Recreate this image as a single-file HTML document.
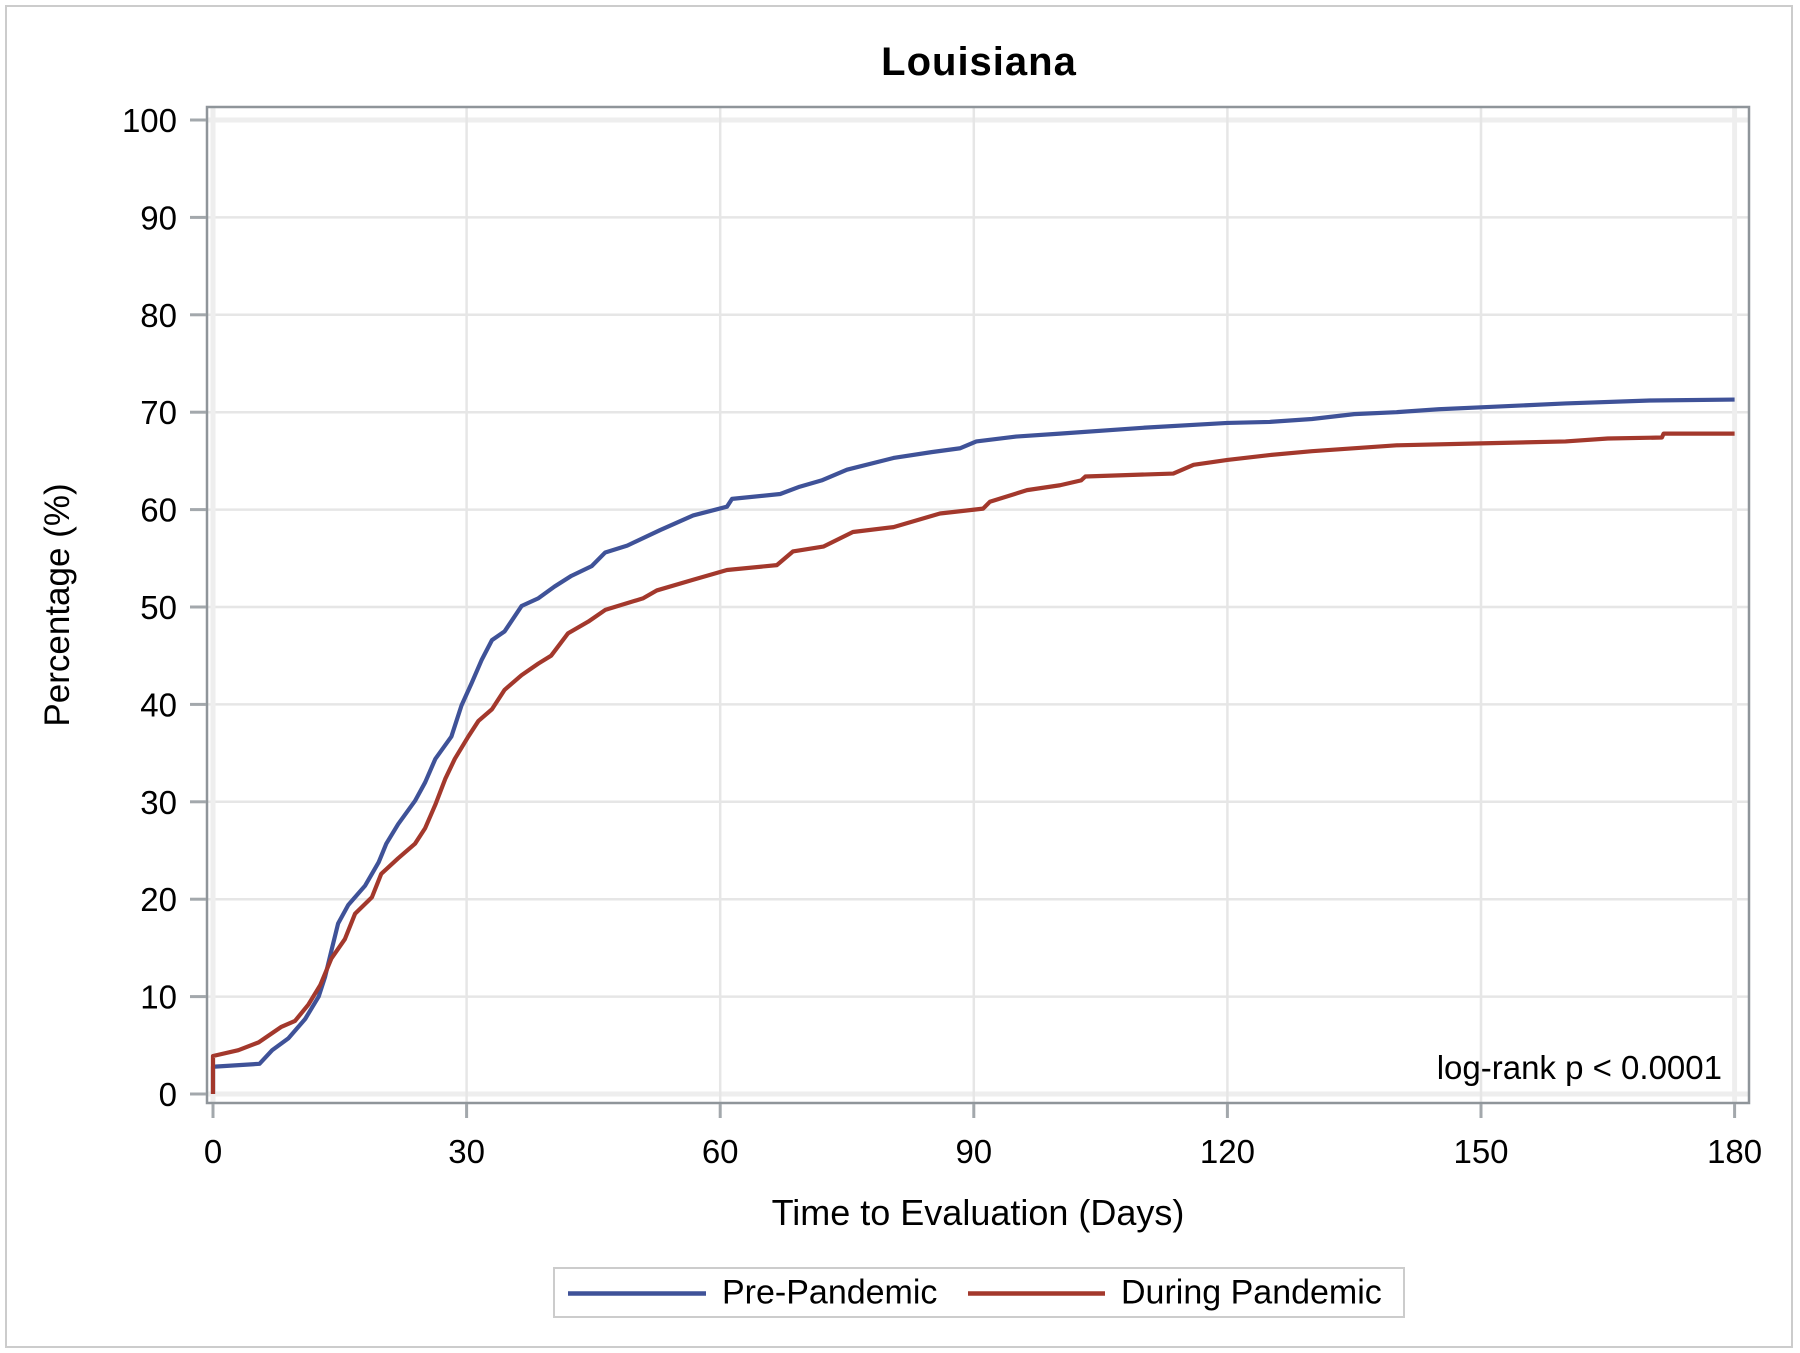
<!DOCTYPE html>
<html>
<head>
<meta charset="utf-8">
<style>
  html, body { margin:0; padding:0; background:#ffffff; }
  body { width:1800px; height:1353px; overflow:hidden; }
  svg { display:block; }
  text { font-family: "Liberation Sans", Arial, sans-serif; fill:#000; }
</style>
</head>
<body>
<svg width="1800" height="1353" viewBox="0 0 1800 1353" xmlns="http://www.w3.org/2000/svg">
  <rect x="0" y="0" width="1800" height="1353" fill="#ffffff"/>
  <!-- outer border -->
  <rect x="6" y="6" width="1786" height="1341" fill="none" stroke="#cccccc" stroke-width="2"/>

  <!-- title -->
  <text x="979" y="75" font-size="40" font-weight="bold" text-anchor="middle" letter-spacing="1">Louisiana</text>

  <!-- gridlines horizontal -->
  <g stroke="#e6e6e6" stroke-width="2.5">
    <line x1="208" y1="120" x2="1748" y2="120" stroke="#eeeeee" stroke-width="5"/>
    <line x1="208" y1="217.4" x2="1748" y2="217.4"/>
    <line x1="208" y1="314.8" x2="1748" y2="314.8"/>
    <line x1="208" y1="412.2" x2="1748" y2="412.2"/>
    <line x1="208" y1="509.6" x2="1748" y2="509.6"/>
    <line x1="208" y1="607" x2="1748" y2="607"/>
    <line x1="208" y1="704.4" x2="1748" y2="704.4"/>
    <line x1="208" y1="801.8" x2="1748" y2="801.8"/>
    <line x1="208" y1="899.2" x2="1748" y2="899.2"/>
    <line x1="208" y1="996.6" x2="1748" y2="996.6"/>
    <line x1="208" y1="1094" x2="1748" y2="1094" stroke="#eeeeee" stroke-width="5"/>
  </g>
  <!-- gridlines vertical -->
  <g stroke="#e6e6e6" stroke-width="2.5">
    <line x1="213" y1="108" x2="213" y2="1102" stroke="#eeeeee" stroke-width="5"/>
    <line x1="466.6" y1="108" x2="466.6" y2="1102"/>
    <line x1="720.2" y1="108" x2="720.2" y2="1102"/>
    <line x1="973.8" y1="108" x2="973.8" y2="1102"/>
    <line x1="1227.4" y1="108" x2="1227.4" y2="1102"/>
    <line x1="1481" y1="108" x2="1481" y2="1102"/>
    <line x1="1734.6" y1="108" x2="1734.6" y2="1102" stroke="#eeeeee" stroke-width="5"/>
  </g>

  <!-- plot frame -->
  <rect x="207" y="107" width="1542" height="996" fill="none" stroke="#8f959a" stroke-width="2.5"/>

  <!-- y ticks -->
  <g stroke="#a3a8ac" stroke-width="3">
    <line x1="190" y1="120" x2="206" y2="120"/>
    <line x1="190" y1="217.4" x2="206" y2="217.4"/>
    <line x1="190" y1="314.8" x2="206" y2="314.8"/>
    <line x1="190" y1="412.2" x2="206" y2="412.2"/>
    <line x1="190" y1="509.6" x2="206" y2="509.6"/>
    <line x1="190" y1="607" x2="206" y2="607"/>
    <line x1="190" y1="704.4" x2="206" y2="704.4"/>
    <line x1="190" y1="801.8" x2="206" y2="801.8"/>
    <line x1="190" y1="899.2" x2="206" y2="899.2"/>
    <line x1="190" y1="996.6" x2="206" y2="996.6"/>
    <line x1="190" y1="1094" x2="206" y2="1094"/>
  </g>
  <!-- x ticks -->
  <g stroke="#a3a8ac" stroke-width="3">
    <line x1="213" y1="1104" x2="213" y2="1118"/>
    <line x1="466.6" y1="1104" x2="466.6" y2="1118"/>
    <line x1="720.2" y1="1104" x2="720.2" y2="1118"/>
    <line x1="973.8" y1="1104" x2="973.8" y2="1118"/>
    <line x1="1227.4" y1="1104" x2="1227.4" y2="1118"/>
    <line x1="1481" y1="1104" x2="1481" y2="1118"/>
    <line x1="1734.6" y1="1104" x2="1734.6" y2="1118"/>
  </g>

  <!-- y tick labels -->
  <g font-size="33" text-anchor="end">
    <text x="177" y="132">100</text>
    <text x="177" y="229.4">90</text>
    <text x="177" y="326.8">80</text>
    <text x="177" y="424.2">70</text>
    <text x="177" y="521.6">60</text>
    <text x="177" y="619">50</text>
    <text x="177" y="716.4">40</text>
    <text x="177" y="813.8">30</text>
    <text x="177" y="911.2">20</text>
    <text x="177" y="1008.6">10</text>
    <text x="177" y="1106">0</text>
  </g>
  <!-- x tick labels -->
  <g font-size="33" text-anchor="middle">
    <text x="213" y="1163">0</text>
    <text x="466.6" y="1163">30</text>
    <text x="720.2" y="1163">60</text>
    <text x="973.8" y="1163">90</text>
    <text x="1227.4" y="1163">120</text>
    <text x="1481" y="1163">150</text>
    <text x="1734.6" y="1163">180</text>
  </g>

  <!-- axis labels -->
  <text x="978" y="1225" font-size="36" text-anchor="middle">Time to Evaluation (Days)</text>
  <text transform="translate(69,605) rotate(-90)" font-size="35" text-anchor="middle">Percentage (%)</text>

  <!-- curves -->
  <g transform="translate(213,1094) scale(8.4533,-9.74)" fill="none" stroke-linejoin="round" stroke-linecap="butt">
    <polyline vector-effect="non-scaling-stroke" stroke="#3f5298" stroke-width="4.2"
      points="0,0 0,2.8 5.5,3.1 7,4.5 8.9,5.7 10.9,7.7 12.5,10 13.25,12 14,14.7 14.8,17.5 16,19.4 18,21.4 19.6,23.8 20.5,25.7 21.9,27.7 23.9,30.1 25.1,32 26.3,34.4 28.2,36.7 29.4,39.9 30.6,42.2 31.8,44.6 33,46.6 34.5,47.5 36.5,50.1 38.5,50.9 40.4,52.1 42.4,53.2 44.8,54.2 46.4,55.6 49,56.3 52.9,57.9 56.8,59.4 60.8,60.3 61.4,61.1 67.1,61.6 69.4,62.35 72,63 75,64.1 80.5,65.3 85,65.9 88.4,66.3 90.3,67.0 95,67.5 100.2,67.8 110,68.4 120,68.9 125,69.0 130,69.3 135,69.8 140,70.0 145,70.3 150,70.5 160,70.9 170,71.2 180,71.3"/>
    <polyline vector-effect="non-scaling-stroke" stroke="#a3382c" stroke-width="4.2"
      points="0,0 0,3.9 3,4.5 5.4,5.3 8.1,6.9 9.7,7.5 11.3,9.2 12.7,11.2 14,13.9 15.6,15.9 16.8,18.5 18.8,20.2 19.9,22.6 21.9,24.2 23.9,25.7 25.1,27.3 26.3,29.7 27.5,32.4 28.6,34.4 30.2,36.7 31.4,38.3 33,39.5 34.5,41.5 36.5,43 38.5,44.2 40,45 42,47.3 44.4,48.5 46.4,49.7 50.9,50.9 52.5,51.7 56.8,52.8 60.8,53.8 66.7,54.3 68.6,55.7 72.2,56.2 75.7,57.7 80.5,58.2 86,59.6 91.1,60.1 91.9,60.8 96.3,62 100.2,62.5 102.7,63.0 103.2,63.4 113.6,63.7 116,64.6 120,65.1 125,65.6 130,66.0 140,66.6 150,66.8 160,67.0 165,67.3 171.4,67.4 171.6,67.8 180,67.8"/>
  </g>

  <!-- log-rank annotation -->
  <text x="1722" y="1079" font-size="33" text-anchor="end">log-rank p &lt; 0.0001</text>

  <!-- legend -->
  <rect x="554" y="1268" width="850" height="49" fill="#ffffff" stroke="#cccccc" stroke-width="2"/>
  <line x1="568" y1="1293.5" x2="706" y2="1293.5" stroke="#3f5298" stroke-width="4.5"/>
  <text x="722" y="1303.5" font-size="34">Pre-Pandemic</text>
  <line x1="968" y1="1293.5" x2="1105" y2="1293.5" stroke="#a3382c" stroke-width="4.5"/>
  <text x="1121" y="1303.5" font-size="34">During Pandemic</text>
</svg>
</body>
</html>
